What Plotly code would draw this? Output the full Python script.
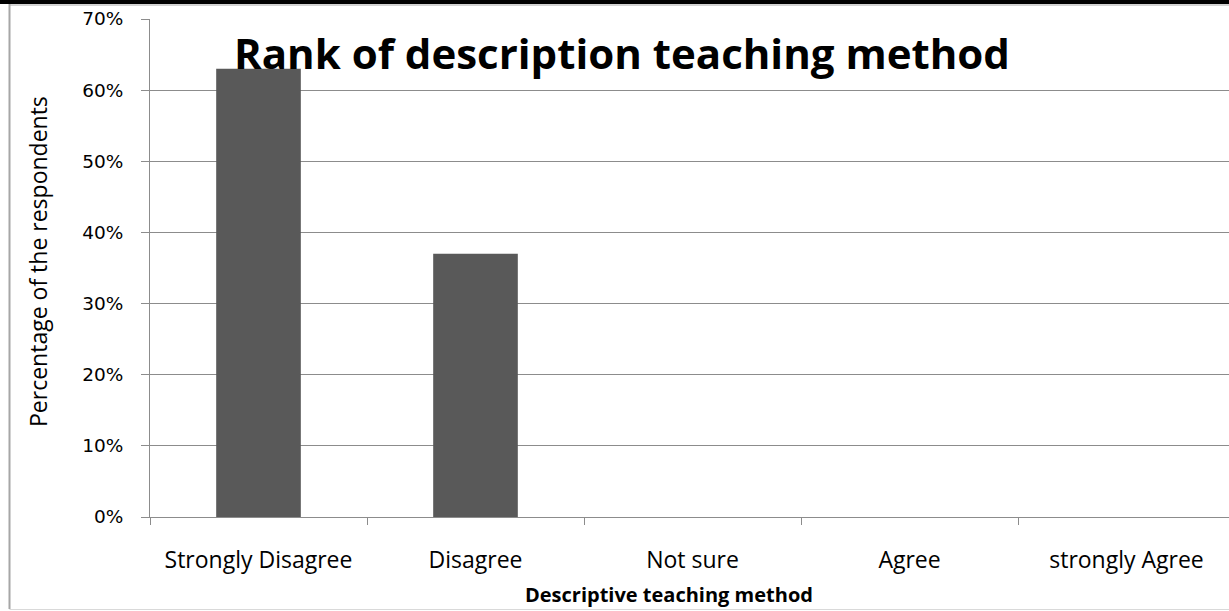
import plotly.graph_objects as go

categories = ["Strongly Disagree", "Disagree", "Not sure", "Agree", "strongly Agree"]
values = [0.63, 0.37, 0, 0, 0]
y_ticks = [0, 0.1, 0.2, 0.3, 0.4, 0.5, 0.6, 0.7]
y_tick_labels = ["0%", "10%", "20%", "30%", "40%", "50%", "60%", "70%"]

W, H = 1229, 611
L, R, T, B = 150, 0, 19, 94
pw = W - L - R
ph = H - T - B

def px_x(p):
    return (p - L) / pw

def px_y(p):
    return (H - B - p) / ph

fig = go.Figure()
fig.add_trace(go.Bar(
    x=categories, y=values,
    marker=dict(color="#595959", line=dict(width=0)),
    width=0.39,
))

fig.update_layout(
    width=W, height=H,
    margin=dict(l=L, r=R, t=T, b=B, pad=0),
    paper_bgcolor="white", plot_bgcolor="white",
    showlegend=False,
    xaxis=dict(
        type="category",
        range=[-0.5, -0.5 + pw / 217.0],
        showline=True, linecolor="#8c8c8c", linewidth=1,
        ticks="outside", tickson="boundaries", ticklen=7, tickcolor="#8c8c8c",
        showgrid=False,
        tickfont=dict(family="Open Sans", size=23, color="#000000"),
        ticklabelstandoff=22,
    ),
    yaxis=dict(
        range=[0, 0.7],
        tickvals=y_ticks, ticktext=y_tick_labels,
        showline=True, linecolor="#8c8c8c", linewidth=1,
        ticks="outside", ticklen=8, tickcolor="#8c8c8c",
        showgrid=True, gridcolor="#8c8c8c", gridwidth=1,
        tickfont=dict(family="DejaVu Sans", size=18.5, color="#000000"),
        ticklabelstandoff=14,
        zeroline=False,
    ),
    annotations=[
        dict(text="<b>Rank of description teaching method</b>", xref="paper", yref="paper",
             x=px_x(232), y=px_y(53), xanchor="left", yanchor="middle", showarrow=False,
             font=dict(family="Open Sans", size=42, color="#000000")),
        dict(text="Percentage of the respondents", xref="paper", yref="paper",
             x=px_x(38), y=px_y(262), xanchor="center", yanchor="middle", showarrow=False,
             textangle=-90, font=dict(family="Open Sans", size=23, color="#000000")),
        dict(text="<b>Descriptive teaching method</b>", xref="paper", yref="paper",
             x=px_x(669), y=px_y(594), xanchor="center", yanchor="middle", showarrow=False,
             font=dict(family="Open Sans", size=20, color="#000000")),
    ],
    shapes=[
        dict(type="line", xref="paper", yref="paper", x0=px_x(9.5), x1=px_x(9.5),
             y0=px_y(4), y1=px_y(609), line=dict(color="#a6a6a6", width=2)),
        dict(type="line", xref="paper", yref="paper", x0=px_x(9.5), x1=px_x(1229),
             y0=px_y(609.5), y1=px_y(609.5), line=dict(color="#d9d9d9", width=1)),
        dict(type="line", xref="paper", yref="paper", x0=px_x(0), x1=px_x(1229),
             y0=px_y(2), y1=px_y(2), line=dict(color="#000000", width=4)),
        dict(type="line", xref="paper", yref="paper", x0=px_x(9.5), x1=px_x(1229),
             y0=px_y(5), y1=px_y(5), line=dict(color="#a6a6a6", width=1)),
    ],
)

fig.write_html("out.html", config={"displayModeBar": False},
               post_script="document.body.style.margin='0';document.body.style.padding='0';")
